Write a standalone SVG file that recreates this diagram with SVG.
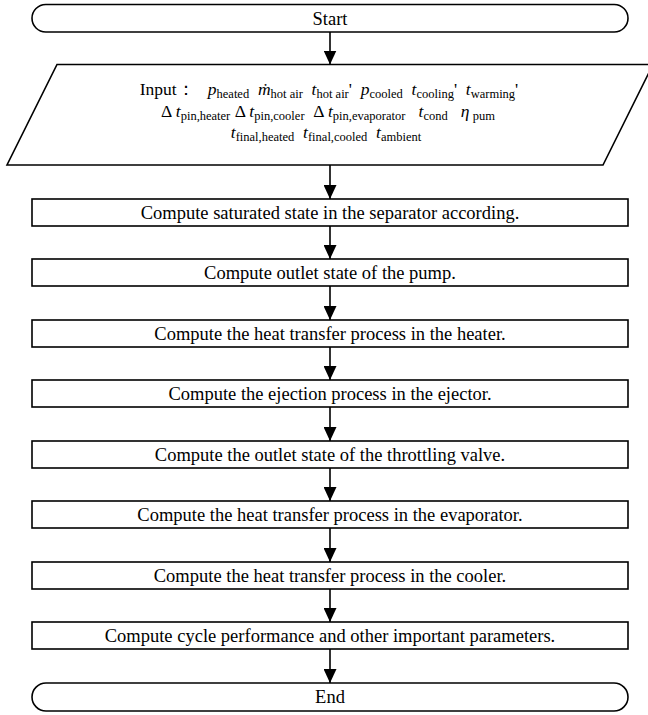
<svg xmlns="http://www.w3.org/2000/svg" width="648" height="715" viewBox="0 0 648 715">
<style>
.box{fill:#fff;stroke:#000;stroke-width:1.6}
.t{font-family:"Liberation Serif","Times New Roman",serif;font-size:18.5px;fill:#000;text-anchor:middle}
.i{font-family:"Liberation Serif","Times New Roman",serif;font-size:17.5px;fill:#000;text-anchor:middle}
.v{font-style:italic}
.s{font-size:12.5px}
.c{stroke:#000;stroke-width:1.6;fill:none}
</style>
<defs>
<marker id="ah" viewBox="0 0 14 13" refX="14" refY="6.5" markerWidth="14" markerHeight="13" markerUnits="userSpaceOnUse" orient="auto">
<path d="M0,0 L14,6.5 L0,13 Z" fill="#000"/>
</marker>
</defs>
<g id="connectors">
<line class="c" x1="330" y1="32" x2="330" y2="64.5" marker-end="url(#ah)"/>
<line class="c" x1="330" y1="165" x2="330" y2="199" marker-end="url(#ah)"/>
<line class="c" x1="330" y1="226" x2="330" y2="259" marker-end="url(#ah)"/>
<line class="c" x1="330" y1="286" x2="330" y2="320" marker-end="url(#ah)"/>
<line class="c" x1="330" y1="347" x2="330" y2="380" marker-end="url(#ah)"/>
<line class="c" x1="330" y1="407" x2="330" y2="441" marker-end="url(#ah)"/>
<line class="c" x1="330" y1="468" x2="330" y2="501" marker-end="url(#ah)"/>
<line class="c" x1="330" y1="528" x2="330" y2="562" marker-end="url(#ah)"/>
<line class="c" x1="330" y1="589" x2="330" y2="622" marker-end="url(#ah)"/>
<line class="c" x1="330" y1="649" x2="330" y2="683" marker-end="url(#ah)"/>
</g>
<g id="start">
<rect class="box" x="32" y="4.5" width="596" height="27.5" rx="13.75"/>
<text class="t" x="330" y="24.5">Start</text>
</g>
<g id="input">
<polygon class="box" points="57,64.5 653,64.5 603,165 7,165"/>
<text class="i" x="329" y="95" xml:space="preserve">Input：   <tspan class="v">p</tspan><tspan class="s" dy="2.5">heated</tspan>  <tspan class="v" dy="-2.5">ṁ</tspan><tspan class="s" dy="2.5">hot air</tspan>  <tspan class="v" dy="-2.5">t</tspan><tspan class="s" dy="2.5">hot air</tspan><tspan dy="-2.5">'  </tspan><tspan class="v">p</tspan><tspan class="s" dy="2.5">cooled</tspan>  <tspan class="v" dy="-2.5">t</tspan><tspan class="s" dy="2.5">cooling</tspan><tspan dy="-2.5">'  </tspan><tspan class="v">t</tspan><tspan class="s" dy="2.5">warming</tspan><tspan dy="-2.5">'</tspan></text>
<text class="i" x="328" y="117" xml:space="preserve">Δ <tspan class="v">t</tspan><tspan class="s" dy="2.5">pin,heater</tspan> <tspan dy="-2.5">Δ </tspan><tspan class="v">t</tspan><tspan class="s" dy="2.5">pin,cooler</tspan>  <tspan dy="-2.5">Δ </tspan><tspan class="v">t</tspan><tspan class="s" dy="2.5">pin,evaporator</tspan>   <tspan class="v" dy="-2.5">t</tspan><tspan class="s" dy="2.5">cond</tspan>   <tspan class="v" dy="-2.5">η</tspan><tspan class="s" dy="2.5"> pum</tspan></text>
<text class="i" x="326" y="138" xml:space="preserve"><tspan class="v">t</tspan><tspan class="s" dy="2.5">final,heated</tspan>  <tspan class="v" dy="-2.5">t</tspan><tspan class="s" dy="2.5">final,cooled</tspan>  <tspan class="v" dy="-2.5">t</tspan><tspan class="s" dy="2.5">ambient</tspan></text>
</g>
<g id="step1">
<rect class="box" x="32" y="199" width="596" height="27"/>
<text class="t" x="330" y="219">Compute saturated state in the separator according.</text>
</g>
<g id="step2">
<rect class="box" x="32" y="259" width="596" height="27"/>
<text class="t" x="330" y="279">Compute outlet state of the pump.</text>
</g>
<g id="step3">
<rect class="box" x="32" y="320" width="596" height="27"/>
<text class="t" x="330" y="340">Compute the heat transfer process in the heater.</text>
</g>
<g id="step4">
<rect class="box" x="32" y="380" width="596" height="27"/>
<text class="t" x="330" y="400">Compute the ejection process in the ejector.</text>
</g>
<g id="step5">
<rect class="box" x="32" y="441" width="596" height="27"/>
<text class="t" x="330" y="461">Compute the outlet state of the throttling valve.</text>
</g>
<g id="step6">
<rect class="box" x="32" y="501" width="596" height="27"/>
<text class="t" x="330" y="521">Compute the heat transfer process in the evaporator.</text>
</g>
<g id="step7">
<rect class="box" x="32" y="562" width="596" height="27"/>
<text class="t" x="330" y="582">Compute the heat transfer process in the cooler.</text>
</g>
<g id="step8">
<rect class="box" x="32" y="622" width="596" height="27"/>
<text class="t" x="330" y="642">Compute cycle performance and other important parameters.</text>
</g>
<g id="end">
<rect class="box" x="32" y="683" width="596" height="28" rx="14"/>
<text class="t" x="330" y="703">End</text>
</g>
</svg>
